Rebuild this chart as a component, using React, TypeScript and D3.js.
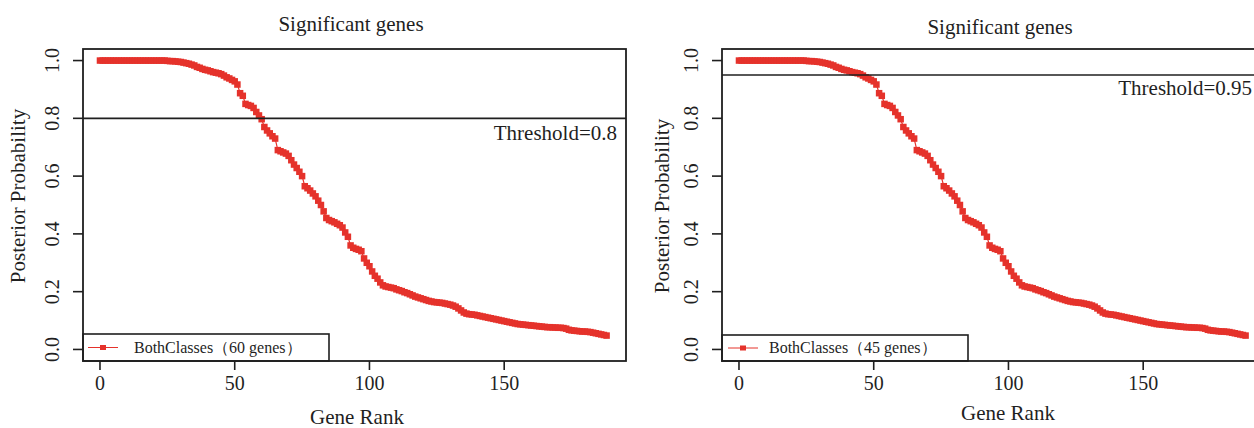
import React from "react";
import * as d3 from "d3";

// ---------- data ----------
const ranks: number[] = d3.range(0, 189);
const posterior: number[] = [
  // 0-24
  1, 1, 1, 1, 1, 1, 1, 1, 1, 1, 1, 1, 1, 1, 1, 1, 1, 1, 1, 1, 1, 1, 1, 1, 1,
  // 25-44
  0.999, 0.998, 0.998, 0.997, 0.996, 0.995, 0.993, 0.991, 0.989, 0.986, 0.983,
  0.978, 0.975, 0.971, 0.968, 0.966, 0.963, 0.96, 0.958, 0.956,
  // 45-64
  0.953, 0.948, 0.942, 0.938, 0.933, 0.928, 0.917, 0.887, 0.878, 0.85,
  0.846, 0.843, 0.836, 0.822, 0.81, 0.797, 0.77, 0.758, 0.748, 0.738,
  // 65-84
  0.73, 0.69, 0.686, 0.682, 0.678, 0.67, 0.655, 0.64, 0.628, 0.615,
  0.6, 0.565, 0.558, 0.55, 0.54, 0.53, 0.515, 0.5, 0.478, 0.455,
  // 85-104
  0.448, 0.444, 0.44, 0.435, 0.43, 0.422, 0.405, 0.39, 0.36, 0.352,
  0.348, 0.345, 0.34, 0.315, 0.3, 0.288, 0.27, 0.255, 0.245, 0.232,
  // 105-124
  0.222, 0.218, 0.216, 0.214, 0.212, 0.208, 0.205, 0.202, 0.198, 0.195,
  0.191, 0.187, 0.183, 0.18, 0.177, 0.174, 0.171, 0.168, 0.166, 0.164,
  // 125-144
  0.163, 0.162, 0.161, 0.159, 0.157, 0.155, 0.152, 0.148, 0.142, 0.135,
  0.128, 0.124, 0.122, 0.121, 0.12, 0.118, 0.116, 0.114, 0.112, 0.11,
  // 145-164
  0.108, 0.106, 0.104, 0.102, 0.1, 0.098, 0.096, 0.094, 0.092, 0.09,
  0.088, 0.087, 0.086, 0.085, 0.084, 0.083, 0.082, 0.081, 0.08, 0.079,
  // 165-188
  0.078, 0.077, 0.077, 0.076, 0.076, 0.075, 0.075, 0.074, 0.072, 0.068,
  0.066, 0.065, 0.064, 0.063, 0.062, 0.062, 0.061, 0.06, 0.058, 0.056,
  0.054, 0.052, 0.05, 0.048,
];
const xTicks: number[] = [0, 50, 100, 150];
const yTicks: number[] = [0, 0.2, 0.4, 0.6, 0.8, 1.0];
const thresholds: number[] = [0.8, 0.95];
const thresholdLabels: string[] = ["Threshold=0.8", "Threshold=0.95"];
const legendLabels: string[] = ["BothClasses（60 genes）", "BothClasses（45 genes）"];
const titleText = "Significant genes";
const xLabelText = "Gene Rank";
const yLabelText = "Posterior Probability";

const RED = "#e5322b";
const INK = "#1f1f1f";
const SERIF = "'Liberation Serif', 'Times New Roman', serif";

interface PanelLayout {
  left: number;
  right: number;
  titleX: number;
  titleY: number;
  xLabelX: number;
  xLabelY: number;
  yLabelX: number;
  yLabelY: number;
  threshTextX: number;
  threshTextY: number;
  legendRight: number;
  legendLineX0: number;
  legendTextX: number;
  legendTop: number;
}

const layouts: PanelLayout[] = [
  {
    left: 83, right: 626, titleX: 351, titleY: 31, xLabelX: 357, xLabelY: 424,
    yLabelX: 25, yLabelY: 196, threshTextX: 617, threshTextY: 140, legendRight: 329,
    legendLineX0: 88, legendTextX: 134, legendTop: 334,
  },
  {
    left: 722, right: 1265, titleX: 1000, titleY: 34, xLabelX: 1008, xLabelY: 420,
    yLabelX: 669, yLabelY: 206, threshTextX: 1252, threshTextY: 95, legendRight: 968,
    legendLineX0: 728, legendTextX: 769, legendTop: 335,
  },
];

const TOP = 49;
const BOTTOM = 361;

function Panel({ idx }: { idx: number }) {
  const L = layouts[idx];
  const x = d3.scaleLinear().domain([-6.3, 195.2]).range([L.left, L.right]);
  const y = d3.scaleLinear().domain([-0.04, 1.04]).range([BOTTOM, TOP]);
  const pts = ranks.map((r, i) => [r, posterior[i]] as [number, number]);
  const line = d3
    .line<[number, number]>()
    .x((d) => x(d[0]))
    .y((d) => y(d[1]));
  const th = thresholds[idx];
  const ms = 6.5;
  const legendY = (L.legendTop + BOTTOM) / 2;
  return (
    <g>
      <text x={L.titleX} y={L.titleY} textAnchor="middle" fontFamily={SERIF} fontSize={21} fill={INK}>
        {titleText}
      </text>
      {/* series */}
      <path d={line(pts) || ""} fill="none" stroke={RED} strokeWidth={1.2} />
      {pts.map((d, i) => (
        <rect key={i} x={x(d[0]) - ms / 2} y={y(d[1]) - ms / 2} width={ms} height={ms} fill={RED} />
      ))}
      {/* threshold */}
      <line x1={L.left} x2={L.right} y1={y(th)} y2={y(th)} stroke={INK} strokeWidth={1.6} />
      <text x={L.threshTextX} y={L.threshTextY} textAnchor="end" fontFamily={SERIF} fontSize={21} fill={INK}>
        {thresholdLabels[idx]}
      </text>
      {/* legend */}
      <rect x={L.left} y={L.legendTop} width={L.legendRight - L.left} height={BOTTOM - L.legendTop} fill="white" stroke={INK} strokeWidth={1.6} />
      <line x1={L.legendLineX0} x2={L.legendLineX0 + 30} y1={legendY} y2={legendY} stroke={RED} strokeWidth={1} />
      <rect x={L.legendLineX0 + 15 - 3} y={legendY - 2.5} width={6} height={5} fill={RED} />
      <text x={L.legendTextX} y={legendY + 5} fontFamily={SERIF} fontSize={16} fill={INK}>
        {legendLabels[idx]}
      </text>
      {/* frame */}
      <rect x={L.left} y={TOP} width={L.right - L.left} height={BOTTOM - TOP} fill="none" stroke={INK} strokeWidth={1.8} />
      {/* x axis */}
      {xTicks.map((t) => (
        <g key={t}>
          <line x1={x(t)} x2={x(t)} y1={BOTTOM} y2={BOTTOM + 9} stroke={INK} strokeWidth={1.6} />
          <text x={x(t)} y={390} textAnchor="middle" fontFamily={SERIF} fontSize={20} fill={INK}>
            {t}
          </text>
        </g>
      ))}
      <text x={L.xLabelX} y={L.xLabelY} textAnchor="middle" fontFamily={SERIF} fontSize={21} fill={INK}>
        {xLabelText}
      </text>
      {/* y axis */}
      {yTicks.map((t) => (
        <g key={t}>
          <line x1={L.left - 10} x2={L.left} y1={y(t)} y2={y(t)} stroke={INK} strokeWidth={1.6} />
          <text
            transform={`translate(${L.left - 24},${y(t)}) rotate(-90)`}
            textAnchor="middle"
            fontFamily={SERIF}
            fontSize={20}
            fill={INK}
          >
            {d3.format(".1f")(t)}
          </text>
        </g>
      ))}
      <text
        transform={`translate(${L.yLabelX},${L.yLabelY}) rotate(-90)`}
        textAnchor="middle"
        fontFamily={SERIF}
        fontSize={21}
        fill={INK}
      >
        {yLabelText}
      </text>
    </g>
  );
}

export default function App() {
  return (
    <div style={{ position: "absolute", left: 0, top: 0 }}>
      <svg width={1254} height={428} style={{ display: "block", background: "white" }}>
        <Panel idx={0} />
        <Panel idx={1} />
      </svg>
    </div>
  );
}
